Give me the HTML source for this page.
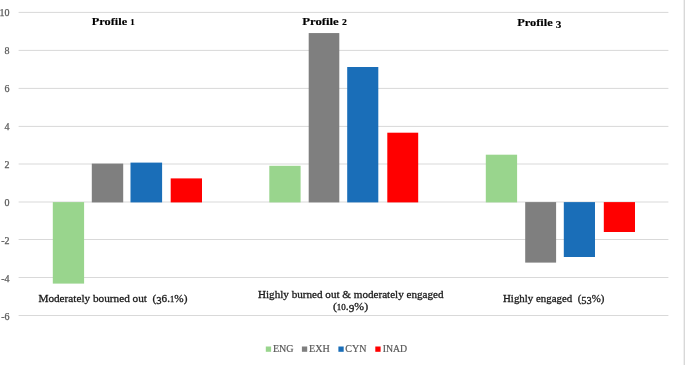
<!DOCTYPE html>
<html><head><meta charset="utf-8">
<style>
html,body{margin:0;padding:0;background:#fff;width:685px;height:365px;overflow:hidden}
svg{display:block;will-change:transform;filter:blur(0.4px)}
#rb{position:absolute;left:683px;top:0;width:2px;height:365px;background:linear-gradient(to right,#f0f0f0 50%,#d8d8d8 50%)}
text{font-family:"Liberation Serif",serif;white-space:pre}
</style></head>
<body>
<svg width="685" height="365" viewBox="0 0 685 365">
<rect x="0" y="0" width="685" height="365" fill="#fff"/>
<!-- gridlines -->
<g fill="#d9d9d9">
<rect x="18.6" y="11.9" width="649.8" height="1"/>
<rect x="18.6" y="49.9" width="649.8" height="1"/>
<rect x="18.6" y="87.9" width="649.8" height="1"/>
<rect x="18.6" y="125.9" width="649.8" height="1"/>
<rect x="18.6" y="163.5" width="649.8" height="1"/>
<rect x="18.6" y="201.5" width="649.8" height="1"/>
<rect x="18.6" y="239.0" width="649.8" height="1"/>
<rect x="18.6" y="277.0" width="649.8" height="1"/>
<rect x="18.6" y="315.0" width="649.8" height="1"/>
</g>
<!-- y labels -->
<g fill="#595959" stroke="#595959" stroke-width="0.25" font-size="10" text-anchor="end">
<text x="9.5" y="15.7">10</text>
<text x="9.5" y="53.7">8</text>
<text x="9.5" y="91.7">6</text>
<text x="9.5" y="129.7">4</text>
<text x="9.5" y="167.7">2</text>
<text x="9.5" y="205.7">0</text>
<text x="9.5" y="243.7">-2</text>
<text x="9.5" y="281.7">-4</text>
<text x="9.5" y="319.7">-6</text>
</g>
<!-- bars -->
<g>
<rect x="52.8" y="202.1" width="31.3" height="81.5" fill="#99d58d"/>
<rect x="91.8" y="163.6" width="31.4" height="38.8" fill="#7f7f7f"/>
<rect x="130.5" y="162.6" width="31.6" height="39.8" fill="#1a6eb8"/>
<rect x="170.7" y="178.4" width="31.3" height="24.0" fill="#ff0000"/>

<rect x="269.3" y="165.8" width="31.3" height="36.6" fill="#99d58d"/>
<rect x="308.7" y="33.06" width="30.6" height="169.34" fill="#7f7f7f"/>
<rect x="347.2" y="67.0" width="31.1" height="135.4" fill="#1a6eb8"/>
<rect x="387.3" y="132.7" width="30.9" height="69.7" fill="#ff0000"/>

<rect x="485.8" y="154.7" width="31.3" height="47.7" fill="#99d58d"/>
<rect x="525.2" y="202.1" width="30.9" height="60.5" fill="#7f7f7f"/>
<rect x="563.8" y="202.1" width="31.2" height="54.9" fill="#1a6eb8"/>
<rect x="603.8" y="202.1" width="31.2" height="29.9" fill="#ff0000"/>
</g>
<!-- titles -->
<g fill="#000" stroke="#000" stroke-width="0.15" font-size="10.6" font-weight="bold">
<text x="91.8" y="24.9" textLength="42.8" lengthAdjust="spacingAndGlyphs">Profile <tspan font-size="7.6">1</tspan></text>
<text x="302.2" y="24.9" textLength="44.6" lengthAdjust="spacingAndGlyphs">Profile <tspan font-size="8">2</tspan></text>
<text x="517.2" y="25.9" textLength="44.2" lengthAdjust="spacingAndGlyphs">Profile <tspan font-size="9.6" dy="1.7">3</tspan></text>
</g>
<!-- category labels -->
<g fill="#1a1a1a" stroke="#1a1a1a" stroke-width="0.3" font-size="11">
<text x="38.4" y="302" textLength="149" lengthAdjust="spacingAndGlyphs">Moderately bourned out  (<tspan font-size="10.4" dy="1.5">3</tspan><tspan dy="-1.5">6.</tspan><tspan font-size="8.4">1</tspan>%)</text>
<text x="258" y="298" textLength="185.6" lengthAdjust="spacingAndGlyphs">Highly burned out &amp; moderately engaged</text>
<text x="332.9" y="310" textLength="35.2" lengthAdjust="spacingAndGlyphs">(<tspan font-size="8.4">10</tspan>.<tspan font-size="10.5" dy="1.5">9</tspan><tspan dy="-1.5">%)</tspan></text>
<text x="503" y="302" textLength="101.4" lengthAdjust="spacingAndGlyphs">Highly engaged  (<tspan font-size="10.5" dy="1.5">53</tspan><tspan dy="-1.5">%)</tspan></text>
</g>
<!-- legend -->
<rect x="265.8" y="346.5" width="5.3" height="5.3" fill="#99d58d"/>
<rect x="301.9" y="346.5" width="5.3" height="5.3" fill="#7f7f7f"/>
<rect x="338.4" y="346.5" width="5.3" height="5.3" fill="#1a6eb8"/>
<rect x="375.3" y="346.5" width="5.3" height="5.3" fill="#ff0000"/>
<g fill="#595959" stroke="#595959" stroke-width="0.2" font-size="10">
<text x="272.9" y="351.8" textLength="20.6" lengthAdjust="spacingAndGlyphs">ENG</text>
<text x="309" y="351.8" textLength="20.7" lengthAdjust="spacingAndGlyphs">EXH</text>
<text x="345.3" y="351.8" textLength="21.2" lengthAdjust="spacingAndGlyphs">CYN</text>
<text x="382.7" y="351.8" textLength="24.5" lengthAdjust="spacingAndGlyphs">INAD</text>
</g>
</svg>
<div id="rb"></div>
</body></html>
